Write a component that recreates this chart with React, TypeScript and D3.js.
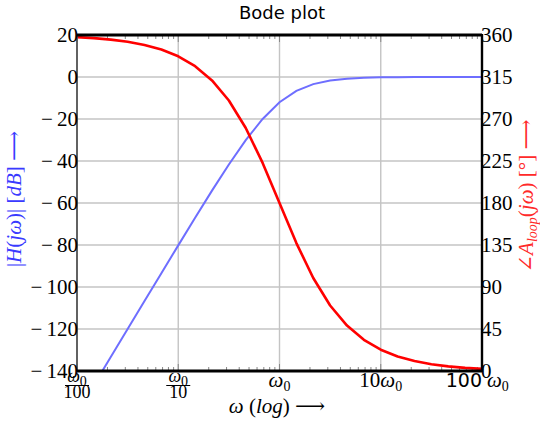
import { useEffect, useRef } from "react";
import * as d3 from "d3";

// frequency samples in units of omega_0 (6 per decade)
const omega = [
  0.01, 0.014678, 0.021544, 0.031623, 0.046416, 0.068129, 0.1, 0.14678, 0.21544,
  0.31623, 0.46416, 0.68129, 1, 1.4678, 2.1544, 3.1623, 4.6416, 6.8129, 10,
  14.678, 21.544, 31.623, 46.416, 68.129, 100,
];
// magnitude |H(jw)| in dB
const magnitude = [
  -160.0, -146.67, -133.34, -120.02, -106.7, -93.41, -80.17, -67.04, -54.12,
  -41.66, -30.06, -19.96, -12.04, -6.62, -3.39, -1.66, -0.79, -0.37, -0.17,
  -0.08, -0.04, -0.02, -0.01, 0.0, 0.0,
];
// phase in degrees
const phase = [
  357.71, 356.64, 355.06, 352.75, 349.37, 344.41, 337.16, 326.6, 311.37, 289.81,
  260.41, 222.93, 180.0, 137.07, 99.59, 70.19, 48.63, 33.4, 22.84, 15.59, 10.63,
  7.25, 4.94, 3.36, 2.29,
];

const dbTicks = [20, 0, -20, -40, -60, -80, -100, -120, -140];
const degTicks = [360, 315, 270, 225, 180, 135, 90, 45, 0];
const decades = [0.01, 0.1, 1, 10, 100];

export default function App() {
  const ref = useRef<SVGSVGElement | null>(null);

  useEffect(() => {
    if (!ref.current) return;
    const width = 540;
    const height = 421;
    const m = { left: 77, right: 482, top: 35, bottom: 371 };
    const serif = "'Liberation Serif', 'DejaVu Serif', serif";
    const sans = "'DejaVu Sans', sans-serif";

    const root = d3.select(ref.current);
    root.selectAll("*").remove();
    root.attr("width", width).attr("height", height);

    const x = d3.scaleLog().domain([0.01, 100]).range([m.left, m.right]);
    const yL = d3.scaleLinear().domain([-140, 20]).range([m.bottom, m.top]);
    const yR = d3.scaleLinear().domain([0, 360]).range([m.bottom, m.top]);

    root
      .append("defs")
      .append("clipPath")
      .attr("id", "plotClip")
      .append("rect")
      .attr("x", m.left)
      .attr("y", m.top)
      .attr("width", m.right - m.left)
      .attr("height", m.bottom - m.top);

    // grid
    const grid = root.append("g").attr("stroke", "#c4c4c4").attr("stroke-width", 1.4);
    dbTicks.forEach((t) => {
      grid.append("line").attr("x1", m.left).attr("x2", m.right).attr("y1", yL(t)).attr("y2", yL(t));
    });
    decades.forEach((d) => {
      grid.append("line").attr("x1", x(d)).attr("x2", x(d)).attr("y1", m.top).attr("y2", m.bottom);
    });

    // minor ticks top and bottom
    const minor: number[] = [];
    decades.slice(0, 4).forEach((d) => {
      for (let k = 2; k <= 9; k++) minor.push(d * k);
    });
    const tk = root.append("g").attr("stroke", "#888").attr("stroke-width", 1);
    minor.forEach((v) => {
      tk.append("line").attr("x1", x(v)).attr("x2", x(v)).attr("y1", m.bottom).attr("y2", m.bottom - 4);
      tk.append("line").attr("x1", x(v)).attr("x2", x(v)).attr("y1", m.top).attr("y2", m.top + 4);
    });
    decades.forEach((d) => {
      tk.append("line").attr("x1", x(d)).attr("x2", x(d)).attr("y1", m.bottom).attr("y2", m.bottom - 7);
      tk.append("line").attr("x1", x(d)).attr("x2", x(d)).attr("y1", m.top).attr("y2", m.top + 7);
    });

    // curves
    const magLine = d3
      .line<number>()
      .x((_, i) => x(omega[i]))
      .y((d) => yL(d));
    const phaseLine = d3
      .line<number>()
      .x((_, i) => x(omega[i]))
      .y((d) => yR(d));

    root
      .append("path")
      .attr("clip-path", "url(#plotClip)")
      .attr("d", magLine(magnitude))
      .attr("fill", "none")
      .attr("stroke", "#6e6eff")
      .attr("stroke-width", 2);

    root
      .append("path")
      .attr("clip-path", "url(#plotClip)")
      .attr("d", phaseLine(phase))
      .attr("fill", "none")
      .attr("stroke", "#ff0000")
      .attr("stroke-width", 2.6)
      .attr("stroke-linejoin", "round");

    // frame
    root.append("line").attr("x1", m.left).attr("x2", m.left).attr("y1", m.top).attr("y2", m.bottom)
      .attr("stroke", "#555").attr("stroke-width", 1.8);
    root.append("line").attr("x1", m.right).attr("x2", m.right).attr("y1", m.top - 1).attr("y2", m.bottom + 1)
      .attr("stroke", "#000").attr("stroke-width", 2.4);
    root.append("line").attr("x1", m.left).attr("x2", m.right).attr("y1", m.top).attr("y2", m.top)
      .attr("stroke", "#000").attr("stroke-width", 3);
    root.append("line").attr("x1", m.left).attr("x2", m.right).attr("y1", m.bottom).attr("y2", m.bottom)
      .attr("stroke", "#000").attr("stroke-width", 3);

    // left tick labels
    dbTicks.forEach((t) => {
      root.append("text")
        .attr("x", m.left + 1)
        .attr("y", yL(t) + 7)
        .attr("text-anchor", "end")
        .attr("font-family", serif)
        .attr("font-size", 21)
        .attr("fill", "#000")
        .text(t < 0 ? `\u2212\u2009${-t}` : `${t}`);
    });
    // right tick labels
    degTicks.forEach((t) => {
      root.append("text")
        .attr("x", m.right - 1)
        .attr("y", yR(t) + 7)
        .attr("font-family", serif)
        .attr("font-size", 21)
        .attr("fill", "#000")
        .text(`${t}`);
    });

    // x tick labels
    const addSub = (sel: d3.Selection<SVGTextElement, unknown, null, undefined>, main: string, sub: string) => {
      sel.append("tspan").attr("font-style", "italic").text(main);
      sel.append("tspan").attr("font-size", 14).attr("dy", 4).text(sub);
    };
    const frac = (cx: number, den: string) => {
      const g = root.append("g").attr("font-family", serif).attr("fill", "#000");
      const num = g.append("text").attr("x", cx).attr("y", 382).attr("text-anchor", "middle").attr("font-size", 18);
      addSub(num, "ω", "0");
      g.append("line").attr("x1", cx - 12).attr("x2", cx + 12).attr("y1", 385.5).attr("y2", 385.5)
        .attr("stroke", "#000").attr("stroke-width", 1);
      g.append("text").attr("x", cx).attr("y", 398).attr("text-anchor", "middle").attr("font-size", 18).text(den);
    };
    frac(x(0.01), "100");
    frac(x(0.1), "10");

    const w0 = root.append("text").attr("x", x(1)).attr("y", 387).attr("text-anchor", "middle")
      .attr("font-family", serif).attr("font-size", 21);
    addSub(w0, "ω", "0");

    const w10 = root.append("text").attr("x", x(10)).attr("y", 387).attr("text-anchor", "middle")
      .attr("font-family", serif).attr("font-size", 21);
    w10.append("tspan").text("10");
    addSub(w10, "ω", "0");

    root.append("text").attr("x", m.right).attr("y", 387).attr("text-anchor", "end")
      .attr("font-family", sans).attr("font-size", 19).text("100");
    const w100 = root.append("text").attr("x", m.right + 5).attr("y", 387)
      .attr("font-family", serif).attr("font-size", 21);
    addSub(w100, "ω", "0");

    // title
    root.append("text").attr("x", 282).attr("y", 19).attr("text-anchor", "middle")
      .attr("font-family", sans).attr("font-size", 18).text("Bode plot");

    // x axis label
    const xl = root.append("text").attr("x", 277).attr("y", 413).attr("text-anchor", "middle")
      .attr("font-family", serif).attr("font-size", 21);
    xl.append("tspan").attr("font-style", "italic").text("ω");
    xl.append("tspan").text(" (");
    xl.append("tspan").attr("font-style", "italic").text("log");
    xl.append("tspan").text(")  ⟶");

    // left axis label
    const ll = root.append("text")
      .attr("transform", "translate(21,199) rotate(-90)")
      .attr("text-anchor", "middle")
      .attr("font-family", serif).attr("font-size", 21).attr("fill", "#3a3aff");
    ll.append("tspan").text("|");
    ll.append("tspan").attr("font-style", "italic").text("H");
    ll.append("tspan").text("(");
    ll.append("tspan").attr("font-style", "italic").text("jω");
    ll.append("tspan").text(")|  [");
    ll.append("tspan").attr("font-style", "italic").text("dB");
    ll.append("tspan").text("]  ⟶");

    // right axis label
    const rl = root.append("text")
      .attr("transform", "translate(533,196) rotate(-90)")
      .attr("text-anchor", "middle")
      .attr("font-family", serif).attr("font-size", 21).attr("fill", "#ff2a2a");
    rl.append("tspan").text("∠");
    rl.append("tspan").attr("font-style", "italic").text("A");
    rl.append("tspan").attr("font-style", "italic").attr("font-size", 14).attr("dy", 4).text("loop");
    rl.append("tspan").attr("dy", -4).text("(");
    rl.append("tspan").attr("font-style", "italic").text("jω");
    rl.append("tspan").text(")  [°]  ⟶");
  }, []);

  return (
    <svg
      ref={ref}
      style={{ position: "absolute", left: 0, top: 0, background: "#fff" }}
    />
  );
}
